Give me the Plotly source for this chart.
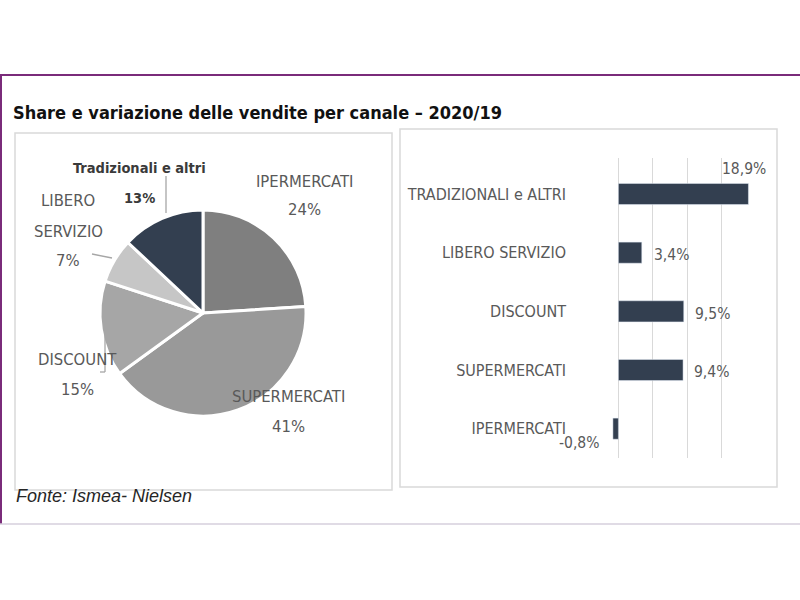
import plotly.graph_objects as go

# ---- data ----
pie_labels = ["IPERMERCATI", "SUPERMERCATI", "DISCOUNT", "LIBERO SERVIZIO", "Tradizionali e altri"]
pie_values = [24, 41, 15, 7, 13]
pie_colors = ["#7f7f7f", "#999999", "#a6a6a6", "#c6c6c6", "#333f50"]

bar_categories = ["TRADIZIONALI e ALTRI", "LIBERO SERVIZIO", "DISCOUNT", "SUPERMERCATI", "IPERMERCATI"]
bar_values = [18.9, 3.4, 9.5, 9.4, -0.8]
bar_text = ["18,9%", "3,4%", "9,5%", "9,4%", "-0,8%"]

W, H = 800, 600
NARROW = "DejaVu Sans Condensed, Liberation Sans Narrow, Arial Narrow, sans-serif"
GRAY = "#595959"

def px(x):
    return x / W

def py(y):
    return 1 - y / H

fig = go.Figure()

# pie
cx, cy, r = 203, 313, 103
fig.add_trace(go.Pie(
    labels=pie_labels, values=pie_values, sort=False, direction="clockwise",
    rotation=0, textinfo="none", hoverinfo="label+percent",
    marker=dict(colors=pie_colors, line=dict(color="white", width=3)),
    domain=dict(x=[px(cx - r), px(cx + r)], y=[py(cy + r), py(cy - r)]),
    showlegend=False,
))

# bars
fig.add_trace(go.Bar(
    y=bar_categories, x=bar_values, orientation="h",
    marker=dict(color="#333f50"), width=0.36, showlegend=False,
))

fig.update_layout(
    width=W, height=H, margin=dict(l=0, r=0, t=0, b=0),
    paper_bgcolor="white", plot_bgcolor="white",
    xaxis=dict(domain=[px(584), px(756)], range=[-5, 20], dtick=5, tick0=0,
               showgrid=True, gridcolor="#d9d9d9", gridwidth=1.3,
               zeroline=False, showticklabels=False, showline=False, fixedrange=True),
    yaxis=dict(domain=[py(458), py(158)], categoryorder="array",
               categoryarray=bar_categories[::-1], showgrid=False, zeroline=False,
               showline=False, ticks="", ticklabelstandoff=17,
               tickfont=dict(family=NARROW, size=16, color=GRAY), fixedrange=True),
    font=dict(family=NARROW, color=GRAY),
)

# bar value labels
offsets = {
    "18,9%": dict(xanchor="right", xshift=20, yshift=25),
    "3,4%": dict(xanchor="left", xshift=10, yshift=-2),
    "9,5%": dict(xanchor="left", xshift=9, yshift=-3),
    "9,4%": dict(xanchor="left", xshift=9, yshift=-2),
    "-0,8%": dict(xanchor="right", xshift=-12, yshift=-14),
}
for cat, val, txt in zip(bar_categories, bar_values, bar_text):
    fig.add_annotation(x=val, y=cat, xref="x", yref="y", text=txt, showarrow=False,
                       font=dict(family=NARROW, size=15.5, color=GRAY), **offsets[txt])

# pie labels
pie_label_pos = {
    "IPERMERCATI": (304, 170, 198),
    "SUPERMERCATI": (288, 408, 438),
    "DISCOUNT": (77, 359, 389),
    "Tradizionali e altri": (139, 158, 188),
}
for lab, val in zip(pie_labels, pie_values):
    if lab == "LIBERO SERVIZIO":
        for t, yy in [("LIBERO", 201), ("SERVIZIO", 231), (f"{val}%", 260)]:
            fig.add_annotation(x=px(68), y=py(yy), xref="paper", yref="paper", text=t,
                               xanchor="center", showarrow=False,
                               font=dict(family=NARROW, size=16.5, color=GRAY))
        continue
    x0, y1, y2 = pie_label_pos[lab]
    bold = lab.startswith("Tradizionali")
    name = f"<b>{lab}</b>" if bold else lab
    pct = f"<b>{val}%</b>" if bold else f"{val}%"
    col = "#3a3a3a" if bold else GRAY
    size = 14.5 if bold else 16.5
    for t, yy in [(name, y1), (pct, y2)]:
        fig.add_annotation(x=px(x0), y=py(yy), xref="paper", yref="paper", text=t,
                           xanchor="center", showarrow=False,
                           font=dict(family=NARROW, size=size, color=col))

# title and source
fig.add_annotation(x=px(11), y=py(100), xref="paper", yref="paper", xanchor="left",
                   text="<b>Share e variazione delle vendite per canale – 2020/19</b>",
                   showarrow=False, font=dict(family=NARROW, size=18, color="#111111"))
fig.add_annotation(x=px(14), y=py(508), xref="paper", yref="paper", xanchor="left",
                   text="<i>Fonte: Ismea- Nielsen</i>", showarrow=False,
                   font=dict(family="Liberation Sans, Arial, sans-serif", size=18, color="#262626"))

shapes = []
# outer frame
shapes.append(dict(type="line", xref="paper", yref="paper", x0=0, x1=1, y0=py(75), y1=py(75),
                   line=dict(color="#7a2b7a", width=2)))
shapes.append(dict(type="line", xref="paper", yref="paper", x0=px(1), x1=px(1), y0=py(75), y1=py(524),
                   line=dict(color="#7a2b7a", width=2)))
shapes.append(dict(type="line", xref="paper", yref="paper", x0=0, x1=1, y0=py(524), y1=py(524),
                   line=dict(color="#d6cfdc", width=1.5)))
# panel boxes
shapes.append(dict(type="rect", xref="paper", yref="paper", x0=px(15), x1=px(392), y0=py(490), y1=py(133),
                   line=dict(color="#d9d9d9", width=1.5)))
shapes.append(dict(type="rect", xref="paper", yref="paper", x0=px(400), x1=px(777), y0=py(487), y1=py(129),
                   line=dict(color="#d9d9d9", width=1.5)))
# leader lines
lead = "#a6a6a6"
for (a, b, c, d) in [(166, 176, 166, 213), (92, 254, 112, 258), (105, 333, 105, 372), (105, 372, 100, 372)]:
    shapes.append(dict(type="line", xref="paper", yref="paper", x0=px(a), y0=py(b), x1=px(c), y1=py(d),
                       line=dict(color=lead, width=1.3)))
fig.update_layout(shapes=shapes)

fig.write_html("out.html", post_script="document.body.style.margin='0px';",
               config={"displayModeBar": False})
